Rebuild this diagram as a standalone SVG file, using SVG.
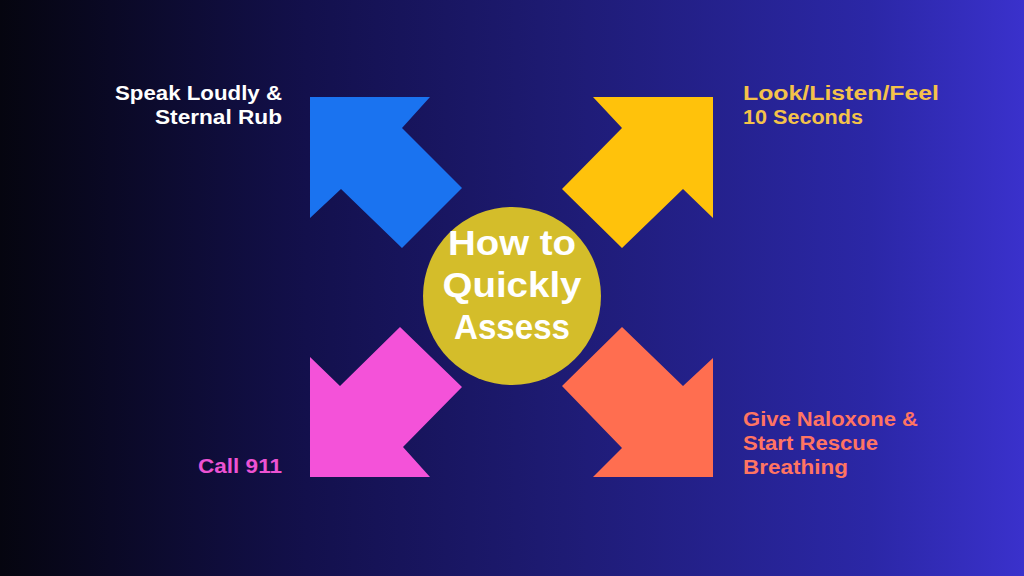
<svg xmlns="http://www.w3.org/2000/svg" width="1024" height="576" viewBox="0 0 1024 576">
<defs>
<linearGradient id="bg" x1="0" y1="0" x2="1" y2="0">
<stop offset="0" stop-color="#05050f"/>
<stop offset="0.3" stop-color="#13104c"/>
<stop offset="0.55" stop-color="#1e1b74"/>
<stop offset="0.85" stop-color="#2b27a6"/>
<stop offset="1" stop-color="#3a31cc"/>
</linearGradient>
<style>
.lbl{font-family:"Liberation Sans",Arial,sans-serif;font-weight:700;font-size:20px}
.ctr{font-family:"Liberation Sans",Arial,sans-serif;font-weight:700;font-size:35px;fill:#ffffff;text-anchor:middle}
</style>
</defs>
<rect width="1024" height="576" fill="url(#bg)"/>
<g id="connectors">
<polygon id="arrow-blue" fill="#1a73f0" points="310,97 430,97 402,128 462,188 402,248 341,189 310,218"/>
<polygon id="arrow-yellow" fill="#ffc20b" points="713,97 713,218 683,189 622,248 562,189 622,128 593,97"/>
<polygon id="arrow-pink" fill="#f452d9" points="310,477 310,357 340,386 400,327 462,387 403,447 430,477"/>
<polygon id="arrow-orange" fill="#ff6e50" points="713,477 593,477 622,448 562,386 622,327 683,386 713,358"/>
</g>
<g id="center">
<circle cx="512" cy="296" r="89" fill="#d4bd2a"/>
<text class="ctr" x="512" y="255" textLength="128" lengthAdjust="spacingAndGlyphs">How to</text>
<text class="ctr" x="512" y="297" textLength="139" lengthAdjust="spacingAndGlyphs">Quickly</text>
<text class="ctr" x="512" y="339" textLength="116" lengthAdjust="spacingAndGlyphs">Assess</text>
</g>
<g id="label-speak">
<text class="lbl" fill="#ffffff" text-anchor="end" x="282" y="100" textLength="167" lengthAdjust="spacingAndGlyphs">Speak Loudly &amp;</text>
<text class="lbl" fill="#ffffff" text-anchor="end" x="282" y="124" textLength="127" lengthAdjust="spacingAndGlyphs">Sternal Rub</text>
</g>
<g id="label-look">
<text class="lbl" fill="#f4c24a" x="743" y="100" textLength="196" lengthAdjust="spacingAndGlyphs">Look/Listen/Feel</text>
<text class="lbl" fill="#f4c24a" x="743" y="124" textLength="120" lengthAdjust="spacingAndGlyphs">10 Seconds</text>
</g>
<g id="label-call">
<text class="lbl" fill="#ec52d2" text-anchor="end" x="282" y="473" textLength="84" lengthAdjust="spacingAndGlyphs">Call 911</text>
</g>
<g id="label-give">
<text class="lbl" fill="#ff7462" x="743" y="426" textLength="175" lengthAdjust="spacingAndGlyphs">Give Naloxone &amp;</text>
<text class="lbl" fill="#ff7462" x="743" y="450" textLength="135" lengthAdjust="spacingAndGlyphs">Start Rescue</text>
<text class="lbl" fill="#ff7462" x="743" y="474" textLength="105" lengthAdjust="spacingAndGlyphs">Breathing</text>
</g>
</svg>
